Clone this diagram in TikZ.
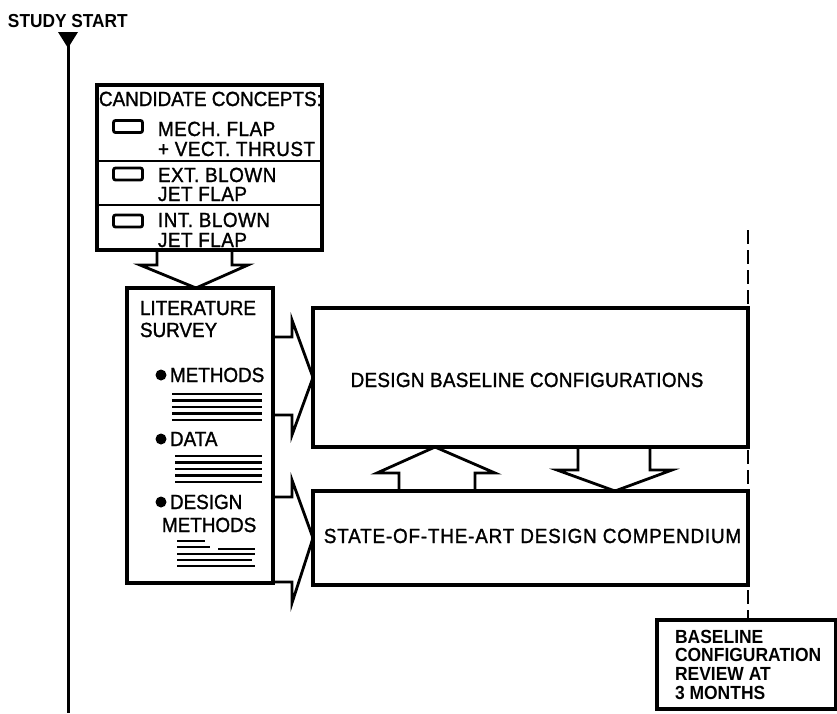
\documentclass[tikz,border=0pt]{standalone}
\usepackage{fontspec}
\setmainfont{Liberation Sans}
\newfontfamily\lettering{Liberation Sans}[FakeBold=1.3, FakeStretch=0.92]
\newfontfamily\heavylettering{Liberation Sans Bold}[FakeStretch=0.92]
\usetikzlibrary{calc}
\begin{document}
\begin{tikzpicture}[x=1pt,y=-1pt,
  every node/.style={inner sep=0pt, outer sep=0pt},
  frame/.style={draw, line width=3.2pt, rectangle},
  txt/.style={anchor=base west, font=\fontsize{20.5}{22}\lettering},
  wtxt/.style={anchor=base west, font=\fontsize{20.5}{22}\lettering\addfontfeature{LetterSpace=2.5}},
  boldtxt/.style={anchor=north west, font=\fontsize{19}{18.7}\heavylettering, align=left},
  hollow/.style={draw, line width=2.8pt, line join=miter},
  tick/.style={draw, line width=2.8pt, rounded corners=2pt, minimum width=29pt, minimum height=12pt},
  textbar/.style={line width=2.7pt},
  milestone/.style={line width=2.8pt, dash pattern=on 14pt off 6pt}]
\useasboundingbox (0,0) rectangle (837,713);

% time axis
\coordinate (t0) at (68,33);
\coordinate (t1) at (68,713);
\draw[line width=3pt] (t0) -- (t1);
\fill ($(t0)+(-10,-1)$) -- ($(t0)+(10,-1)$) -- ($(t0)+(0,15)$) -- cycle;
\node[anchor=base west, font=\fontsize{18.8}{19}\heavylettering] (ss) at (8,27) {STUDY START};

% candidate concepts
\node[frame, minimum width=225pt, minimum height=165pt] (cand) at (209.5,167.5) {};
\draw[line width=2.8pt] ($(cand.north west)+(0,76)$) -- ($(cand.north east)+(0,76)$);
\draw[line width=2.8pt] ($(cand.north west)+(0,120)$) -- ($(cand.north east)+(0,120)$);
\node[txt] (ch) at (99,106) {CANDIDATE CONCEPTS:};
\node[tick] (cb1) at (128,126.5) {};
\node[tick] (cb2) at (128,174) {};
\node[tick] (cb3) at (128,221) {};
\node[wtxt] (c1a) at (158,136) {MECH. FLAP};
\node[wtxt] (c1b) at (158,156) {+ VECT. THRUST};
\node[wtxt] (c2a) at (158,182) {EXT. BLOWN};
\node[wtxt] (c2b) at (158,201) {JET FLAP};
\node[wtxt] (c3a) at (158,227) {INT. BLOWN};
\node[wtxt] (c3b) at (158,247) {JET FLAP};

% literature survey
\node[frame, minimum width=146pt, minimum height=295pt] (lit) at (200,435.5) {};
\node[txt] (l1) at (140,315) {LITERATURE};
\node[txt] (l2) at (140,337) {SURVEY};
\fill (161,375) circle (5.5);
\node[txt] (lm) at (170,382) {METHODS};
\foreach \y in {394,400.5,407,413.5,420}
  \draw[textbar] (172,\y) -- (262,\y);
\fill (161,439) circle (5.5);
\node[txt] (ld) at (170,446) {DATA};
\foreach \y in {456,462.5,469,475.5,482}
  \draw[textbar] (175,\y) -- (262,\y);
\fill (161,502) circle (5.5);
\node[txt] (ldm1) at (170,509) {DESIGN};
\node[txt] (ldm2) at (162,532) {METHODS};
\draw[textbar] (177,541) -- (205,541);
\draw[textbar] (177,547) -- (210,547) (218,549) -- (255,549);
\draw[textbar] (177,554) -- (255,554);
\draw[textbar] (177,560) -- (252,560);
\draw[textbar] (177,566) -- (255,566);

% design boxes
\node[frame, minimum width=435pt, minimum height=139pt] (base) at (530.5,377.5) {};
\node[anchor=base, font=\fontsize{20.5}{22}\lettering\addfontfeature{LetterSpace=1.5}] (bt) at (527,387) {DESIGN BASELINE CONFIGURATIONS};
\node[frame, minimum width=435pt, minimum height=94pt] (state) at (530.5,538) {};
\node[anchor=base, font=\fontsize{20.5}{22}\lettering\addfontfeature{LetterSpace=4}] (st) at (532.5,543) {STATE-OF-THE-ART DESIGN COMPENDIUM};

% review milestone
\node[frame, minimum width=179pt, minimum height=89pt] (review) at (746.5,664.5) {};
\node[boldtxt] (rt) at (675,630) {BASELINE\\CONFIGURATION\\REVIEW AT\\3 MONTHS};
\coordinate (ms) at (748,230);
\draw[milestone] (ms) -- (ms |- review.north);

% hollow flow arrows
\draw[hollow] ($(cand.south west)+(60,0)$) -- ++(0,15) -- ++(-17,0)
  -- ($(lit.north)+(-4,0)$) -- ($(cand.south west)+(151,15)$) -- ++(-16,0) -- ++(0,-15);
\draw[hollow] ($(lit.north east)+(0,49)$) -- ++(19,0) -- ++(0,-17)
  -- (base.west) -- ($(lit.north east)+(19,147)$) -- ++(0,-20) -- ++(-19,0);
\draw[hollow] ($(lit.north east)+(0,209)$) -- ++(19,0) -- ++(0,-17)
  -- (state.west) -- ($(lit.north east)+(19,315)$) -- ++(0,-21) -- ++(-19,0);
\draw[hollow] ($(state.north west)+(86,0)$) -- ++(0,-18) -- ++(-22,0)
  -- ($(base.south west)+(122,0)$) -- ($(state.north west)+(182,-18)$) -- ++(-20,0) -- ++(0,18);
\draw[hollow] ($(base.south west)+(265,0)$) -- ++(0,23) -- ++(-21,0)
  -- ($(state.north west)+(302,0)$) -- ($(base.south west)+(359,23)$) -- ++(-22,0) -- ++(0,-23);
\end{tikzpicture}
\end{document}
